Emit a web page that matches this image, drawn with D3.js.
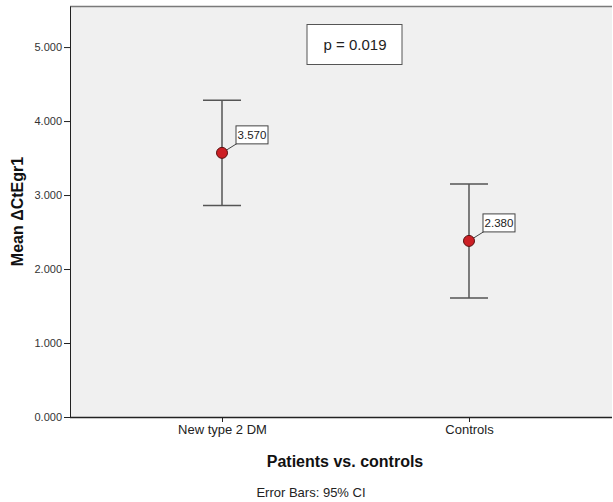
<!DOCTYPE html>
<html><head><meta charset="utf-8">
<script src="https://cdn.jsdelivr.net/npm/d3@7"></script>
<style>body{margin:0;background:#fff;} text{font-family:"Liberation Sans",Arial,sans-serif;}</style>
</head><body>
<svg id="c" width="613" height="502"></svg>
<script>
const categories = ["New type 2 DM", "Controls"];
const means = [3.570, 2.380];
const ciLower = [2.86, 1.61];
const ciUpper = [4.28, 3.15];
const meanLabels = ["3.570", "2.380"];
const yTicks = [0, 1, 2, 3, 4, 5];
const pText = "p = 0.019";

const svg = d3.select("#c");
const pLeft = 70, pRight = 612, pTop = 6, pBottom = 417;
const y = d3.scaleLinear().domain([0, 5.555]).range([pBottom, pTop]);
const x = d3.scalePoint().domain(categories).range([pLeft + 9, pRight]).padding(0.579);

svg.append("rect").attr("x", pLeft).attr("y", pTop).attr("width", pRight - pLeft).attr("height", pBottom - pTop)
  .attr("fill", "#f0f0f0");
svg.append("line").attr("x1", pLeft).attr("x2", pRight).attr("y1", pTop + 0.5).attr("y2", pTop + 0.5)
  .attr("stroke", "#7a7a7a").attr("stroke-width", 1.5);

const yAxis = svg.append("g").attr("transform", `translate(${pLeft},0)`)
  .call(d3.axisLeft(y).tickValues(yTicks).tickFormat(d3.format(".3f")).tickSize(6).tickSizeOuter(0));
yAxis.select(".domain").attr("stroke", "#222");
yAxis.selectAll(".tick line").attr("stroke", "#222");
yAxis.selectAll("text").attr("font-size", 11).attr("fill", "#333").attr("dx", 1).attr("font-family", "Liberation Sans, Arial, sans-serif");

const xAxis = svg.append("g").attr("transform", `translate(0,${pBottom})`)
  .call(d3.axisBottom(x).tickSize(5).tickSizeOuter(0));
xAxis.select(".domain").remove();
xAxis.selectAll(".tick line").attr("stroke", "#222");
xAxis.selectAll("text").attr("font-size", 13).attr("fill", "#222").attr("dy", "0.7em").attr("font-family", "Liberation Sans, Arial, sans-serif");
svg.append("line").attr("x1", pLeft).attr("x2", pRight).attr("y1", pBottom + 0.5).attr("y2", pBottom + 0.5)
  .attr("stroke", "#222").attr("stroke-width", 1.5);

const capHalf = 19;
const g = svg.append("g");
categories.forEach((c, i) => {
  const cx = x(c);
  g.append("line").attr("x1", cx).attr("x2", cx).attr("y1", y(ciUpper[i])).attr("y2", y(ciLower[i]))
    .attr("stroke", "#555").attr("stroke-width", 1.5);
  [ciUpper[i], ciLower[i]].forEach(v => {
    g.append("line").attr("x1", cx - capHalf).attr("x2", cx + capHalf).attr("y1", y(v)).attr("y2", y(v))
      .attr("stroke", "#555").attr("stroke-width", 1.5);
  });
  const cy = y(means[i]);
  g.append("line").attr("x1", cx).attr("y1", cy).attr("x2", cx + 16).attr("y2", cy - 10)
    .attr("stroke", "#444").attr("stroke-width", 1);
  g.append("rect").attr("x", cx + 14).attr("y", cy - 27).attr("width", 32).attr("height", 18)
    .attr("fill", "#fff").attr("stroke", "#444").attr("stroke-width", 1);
  g.append("text").attr("x", cx + 30).attr("y", cy - 13.5).attr("text-anchor", "middle")
    .attr("font-size", 11.5).attr("fill", "#222").text(meanLabels[i]);
  g.append("circle").attr("cx", cx).attr("cy", cy).attr("r", 5.5)
    .attr("fill", "#cc1f24").attr("stroke", "#5a1010").attr("stroke-width", 1);
});

svg.append("rect").attr("x", 307).attr("y", 24.5).attr("width", 95).attr("height", 40)
  .attr("fill", "#fff").attr("stroke", "#555").attr("stroke-width", 1);
svg.append("text").attr("x", 355).attr("y", 50).attr("text-anchor", "middle")
  .attr("font-size", 15).attr("fill", "#222").text(pText);

svg.append("text").attr("transform", `translate(23,${(pTop + pBottom) / 2}) rotate(-90)`)
  .attr("text-anchor", "middle").attr("font-size", 16).attr("font-weight", "bold").attr("fill", "#111")
  .text("Mean ΔCtEgr1");
svg.append("text").attr("x", 345).attr("y", 467).attr("text-anchor", "middle")
  .attr("font-size", 16).attr("font-weight", "bold").attr("fill", "#111").text("Patients vs. controls");
svg.append("text").attr("x", 311).attr("y", 497).attr("text-anchor", "middle")
  .attr("font-size", 13).attr("fill", "#222").text("Error Bars: 95% CI");
</script>
</body></html>
